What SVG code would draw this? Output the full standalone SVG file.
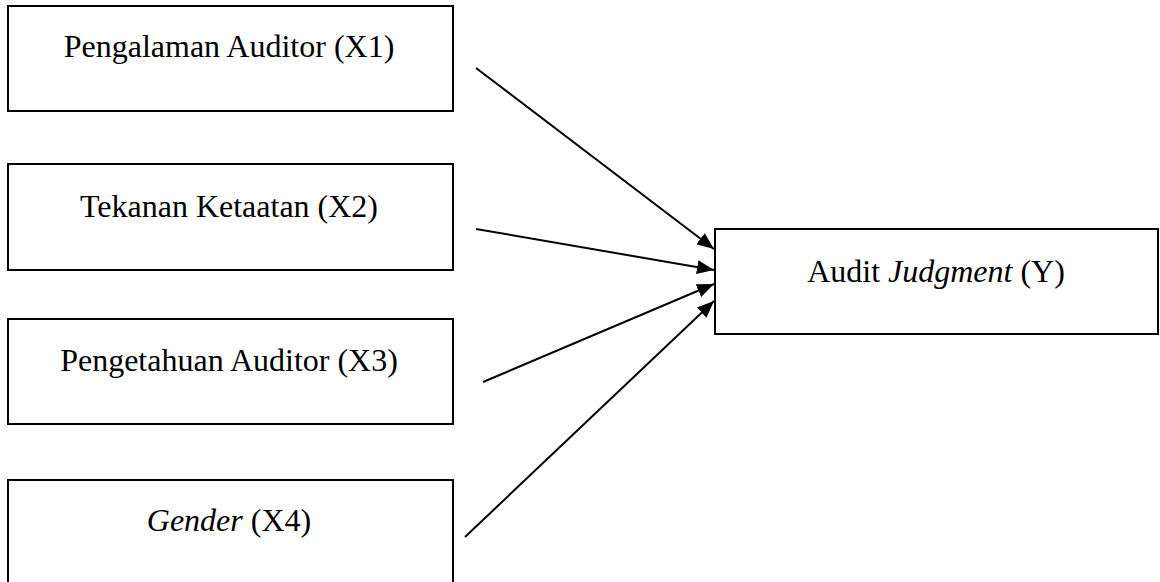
<svg xmlns="http://www.w3.org/2000/svg" width="1160" height="582" viewBox="0 0 1160 582">
<style>
.box{fill:#fff;stroke:#000;stroke-width:2}
.lbl{font-family:"Liberation Serif","Times New Roman",serif;font-size:32px;fill:#000;text-anchor:middle}
.it{font-style:italic}
.con{stroke:#000;stroke-width:2;fill:none;marker-end:url(#ah)}
</style>
<defs>
<marker id="ah" markerUnits="userSpaceOnUse" markerWidth="18" markerHeight="14" refX="17" refY="7" orient="auto">
<path d="M0,0 L17,7 L0,14 Z" fill="#000"/>
</marker>
</defs>
<rect width="1160" height="582" fill="#fff"/>
<g id="x1"><rect class="box" x="8" y="6" width="445" height="105"/><text class="lbl" x="229" y="57">Pengalaman Auditor (X1)</text></g>
<g id="x2"><rect class="box" x="8" y="164" width="445" height="106"/><text class="lbl" x="229" y="217">Tekanan Ketaatan (X2)</text></g>
<g id="x3"><rect class="box" x="8" y="319" width="445" height="105"/><text class="lbl" x="229" y="371">Pengetahuan Auditor (X3)</text></g>
<g id="x4"><rect class="box" x="8" y="480" width="445" height="120"/><text class="lbl" x="229" y="531"><tspan class="it">Gender</tspan> (X4)</text></g>
<g id="y"><rect class="box" x="715" y="229" width="443" height="105"/><text class="lbl" x="936" y="282">Audit <tspan class="it">Judgment</tspan> (Y)</text></g>
<g id="connectors">
<line class="con" x1="476" y1="68" x2="714" y2="249"/>
<line class="con" x1="476" y1="229" x2="714" y2="270"/>
<line class="con" x1="483" y1="382" x2="714" y2="284"/>
<line class="con" x1="465" y1="537" x2="714" y2="301"/>
</g>
</svg>
